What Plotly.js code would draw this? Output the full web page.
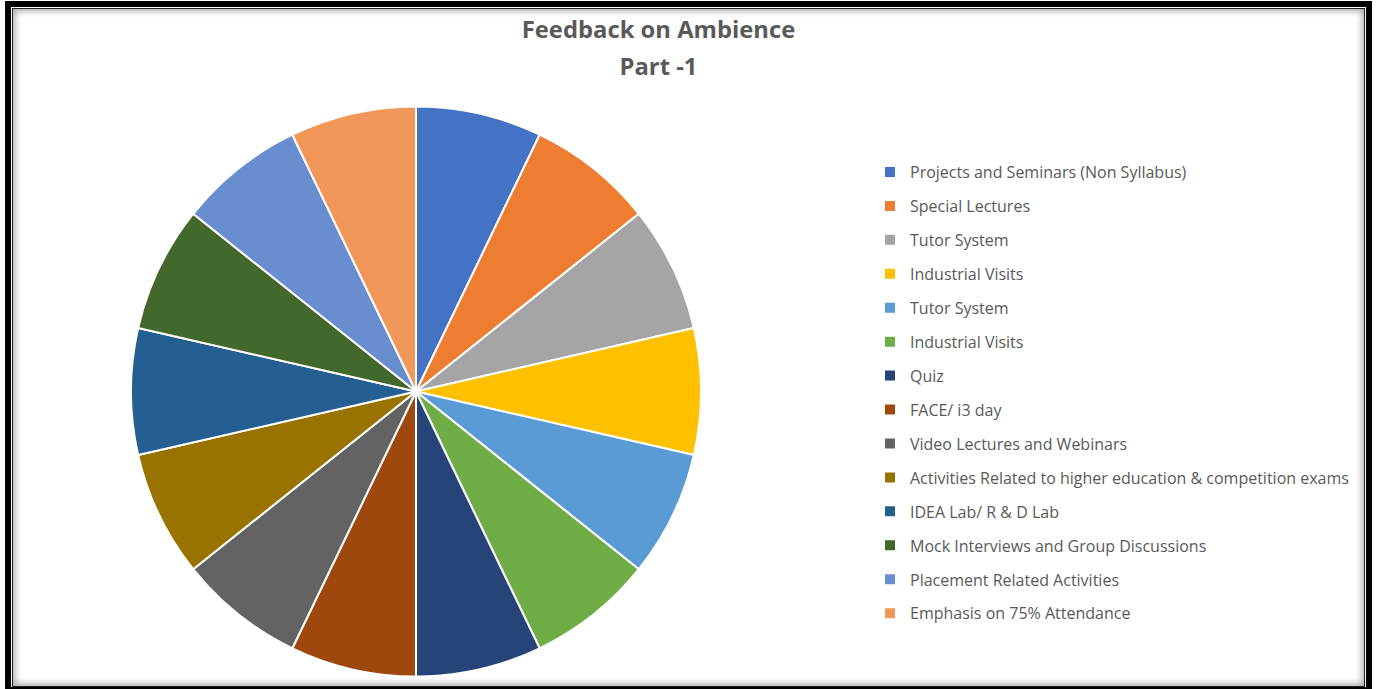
<!DOCTYPE html>
<html>
<head>
<meta charset="utf-8">
<script src="https://cdn.plot.ly/plotly-3.0.1.min.js"></script>
<style>
  html, body { margin: 0; padding: 0; background: #ffffff; }
  #chart { position: absolute; left: 0; top: 0; width: 1377px; height: 689px; }
  #frameOuter { position: absolute; left: 5px; top: 1px; width: 1367px; height: 692px; box-sizing: border-box;
    border: 6px solid #000; pointer-events: none; }
  #frameInner { position: absolute; left: 12px; top: 8px; width: 1353px; height: 679px; box-sizing: border-box;
    border: 1px solid #222; box-shadow: inset 0 0 7px 2px rgba(0,0,0,0.35); pointer-events: none; }
</style>
</head>
<body>
<div id="chart"></div>
<div id="frameOuter"></div>
<div id="frameInner"></div>
<script>
const categories = [
  "Projects and Seminars (Non Syllabus)",
  "Special Lectures",
  "Tutor System",
  "Industrial Visits",
  "Tutor System",
  "Industrial Visits",
  "Quiz",
  "FACE/ i3 day",
  "Video Lectures and Webinars",
  "Activities Related to higher education & competition exams",
  "IDEA Lab/ R & D Lab",
  "Mock Interviews and Group Discussions",
  "Placement Related Activities",
  "Emphasis on 75% Attendance"
];
const values = [1, 1, 1, 1, 1, 1, 1, 1, 1, 1, 1, 1, 1, 1];
const colors = [
  "#4472C4", "#ED7D31", "#A5A5A5", "#FFC000", "#5B9BD5", "#70AD47", "#264478",
  "#9E480E", "#636363", "#997300", "#255E91", "#43682B", "#698ED0", "#F1975A"
];
const titleLines = ["Feedback on Ambience", "Part -1"];

// repeated category names get an invisible zero-width space so they stay separate slices
const seen = {};
const legendLabels = categories.map(c => {
  let key = c;
  while (seen[key]) key += "\u200B";
  seen[key] = true;
  return '<span style="font-size:16px;baseline-shift:3px">' + key.replace(/&/g, "&amp;") + '</span>';
});

const trace = {
  type: "pie",
  labels: legendLabels,
  values: values,
  sort: false,
  direction: "clockwise",
  rotation: 0,
  textinfo: "none",
  hoverinfo: "none",
  marker: { colors: colors, line: { color: "#ffffff", width: 2 } },
  domain: { x: [131/1377, 701/1377], y: [12.5/689, 582.5/689] }
};

const layout = {
  width: 1377, height: 689,
  margin: { l: 0, r: 0, t: 0, b: 0 },
  paper_bgcolor: "#ffffff",
  font: { family: "Open Sans, sans-serif", color: "#595959" },
  title: {
    text: titleLines.map(t => '<span style="font-size:23.8px">' + t + '</span>').join("<br>"),
    font: { family: "Open Sans, sans-serif", size: 28.5, color: "#595959", weight: "bold" },
    x: 658.5/1377, xanchor: "center", xref: "paper",
    y: 1 - 38/689, yanchor: "middle", yref: "container"
  },
  showlegend: true,
  legend: {
    x: 870/1377, xanchor: "left",
    y: 1 - 150/689, yanchor: "top",
    font: { family: "Open Sans, sans-serif", size: 23.8, color: "#595959" },
    bgcolor: "rgba(0,0,0,0)",
    traceorder: "normal"
  }
};

Plotly.newPlot("chart", [trace], layout, { staticPlot: true, displayModeBar: false });
</script>
</body>
</html>
